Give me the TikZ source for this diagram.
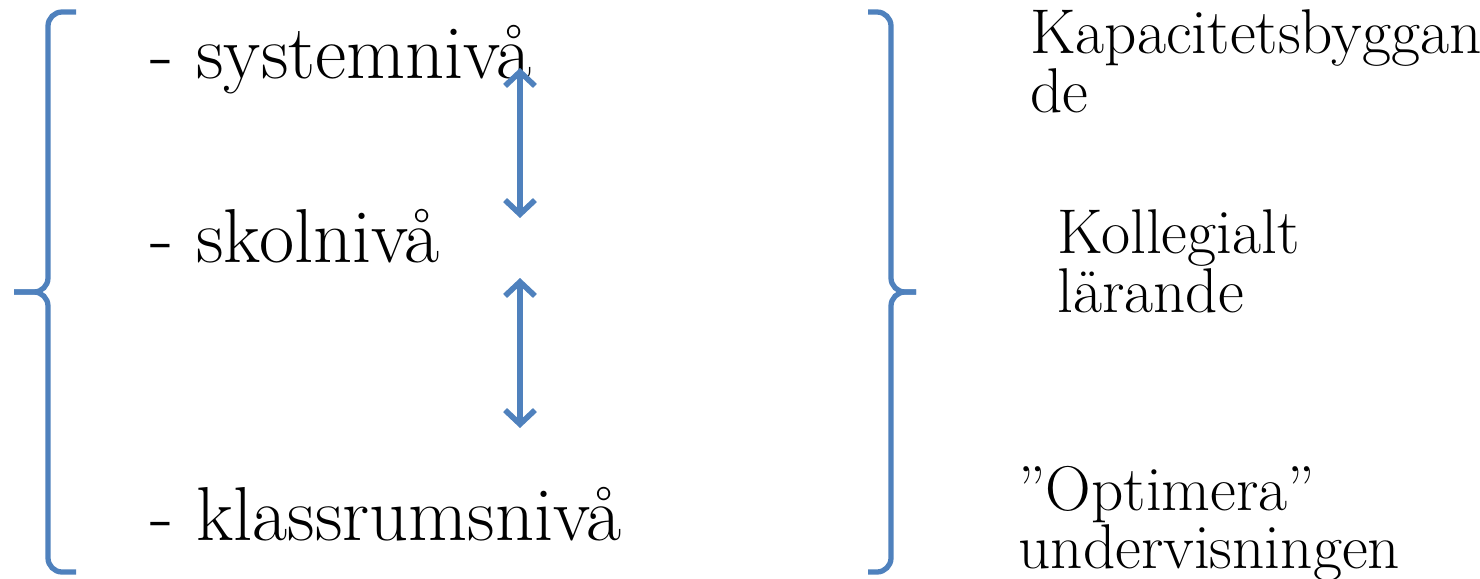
\documentclass[tikz,border=0pt]{standalone}
\usetikzlibrary{arrows.meta}
\definecolor{levelblue}{RGB}{79,129,189}
\tikzset{
  brace/.style={levelblue,line width=3pt,rounded corners=8},
  link/.style={levelblue,line width=3.2pt,
    {Straight Barb[length=8pt,width=17pt]}-{Straight Barb[length=8pt,width=17pt]}},
  level/.style={anchor=base west,inner sep=0pt,font=\fontsize{43.5}{50}\selectfont},
  note/.style={anchor=base west,inner sep=0pt,align=left,font=\fontsize{36}{32}\selectfont},
}
\begin{document}
\begin{tikzpicture}[x=0.02cm,y=-0.02cm]
    \useasboundingbox (0,0) rectangle (1480,578);
    % brackets
    \draw[brace] (76,12) -- (48,12) -- (48,292) -- (14,292);
    \draw[brace] (14,292) -- (48,292) -- (48,572) -- (76,572);
    \draw[brace] (868,12) -- (891,12) -- (891,292) -- (916,292);
    \draw[brace] (916,292) -- (891,292) -- (891,572) -- (868,572);
    % levels
    \node[level] (system) at (150,78) {- systemnivå};
    \node[level] (school) at (150,262) {- skolnivå};
    \node[level] (class) at (150,540) {- klassrumsnivå};
    % arrows between levels
    \coordinate (sysbot) at (520,68);
    \coordinate (schtop) at (520,218);
    \coordinate (schbot) at (520,278);
    \coordinate (clatop) at (520,428);
    \draw[link] (sysbot) -- (schtop);
    \draw[link] (schbot) -- (clatop);
    % notes (anchored at the last line)
    \node[note] (capacity) at (1030,112) {Kapacitetsbyggan\\de};
    \node[note] (collegial) at (1057,312) {Kollegialt\\lärande};
    \node[note] (optimize) at (1018,568) {”Optimera”\\undervisningen};
\end{tikzpicture}
\end{document}
